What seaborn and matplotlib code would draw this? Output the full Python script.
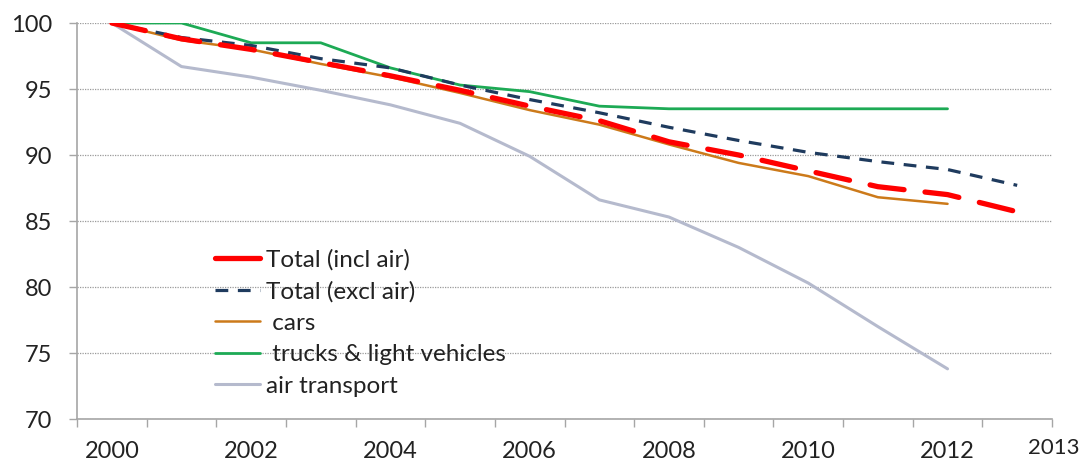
import matplotlib
matplotlib.use("Agg")
import matplotlib.pyplot as plt
import seaborn as sns
import numpy as np
import pandas as pd

years = [2000, 2001, 2002, 2003, 2004, 2005, 2006, 2007, 2008, 2009, 2010, 2011, 2012, 2013]
total_incl_air = [100, 98.8, 98.0, 97.0, 96.0, 94.9, 93.7, 92.6, 91.0, 90.0, 88.8, 87.6, 87.0, 85.7]
total_excl_air = [100, 98.9, 98.3, 97.3, 96.6, 95.3, 94.2, 93.2, 92.1, 91.1, 90.2, 89.5, 88.9, 87.7]
cars = [100, 98.7, 98.0, 96.9, 95.9, 94.7, 93.4, 92.3, 90.8, 89.4, 88.4, 86.8, 86.3]
trucks = [100, 100, 98.5, 98.5, 96.6, 95.3, 94.8, 93.7, 93.5, 93.5, 93.5, 93.5, 93.5]
air = [100, 96.7, 95.9, 94.9, 93.8, 92.4, 89.9, 86.6, 85.3, 83.0, 80.3, 77.0, 73.8]

labels = ["Total (incl air)", "Total (excl air)", " cars", " trucks & light vehicles", "air transport"]
x_labels = ["2000", "2002", "2004", "2006", "2008", "2010", "2012"]
y_ticks = [70, 75, 80, 85, 90, 95, 100]

sns.set_theme(style="white")
plt.rcParams["font.family"] = ["Lato", "DejaVu Sans"]

fig = plt.figure(figsize=(10.83, 4.63), dpi=100)
ax = fig.add_axes([77 / 1083, 1 - 419 / 463, 975 / 1083, 396 / 463])

series = [
    (total_incl_air, dict(color="#FF0000", lw=3.8, linestyle=(0, (6.5, 4.0)), dash_capstyle="round")),
    (total_excl_air, dict(color="#1F3B5E", lw=2.3, linestyle=(0, (4.0, 3.0)))),
    (cars, dict(color="#CC7A1A", lw=1.8, linestyle="-")),
    (trucks, dict(color="#1DAA55", lw=2.0, linestyle="-")),
    (air, dict(color="#B5BACD", lw=2.2, linestyle="-")),
]
order = [4, 3, 2, 1, 0]
handles = {}
for i in order:
    vals, kw = series[i]
    df = pd.DataFrame({"year": years[: len(vals)], "value": vals})
    sns.lineplot(data=df, x="year", y="value", ax=ax, label=labels[i], **kw)
    handles[i] = ax.get_lines()[-1]

ax.set_xlim(1999.5, 2013.5)
ax.set_ylim(70, 100)
ax.set_xlabel("")
ax.set_ylabel("")

FS = 17
ax.set_yticks(y_ticks)
ax.set_yticklabels([str(v) for v in y_ticks])
ax.yaxis.grid(True, linestyle=(0, (1, 1)), color="#9A9A9A", lw=0.9)
ax.xaxis.grid(False)
ax.set_axisbelow(True)

ax.set_xticks([2000, 2002, 2004, 2006, 2008, 2010, 2012])
ax.set_xticklabels(x_labels)
ax.set_xticks(np.arange(1999.5, 2014.0, 1.0), minor=True)
ax.tick_params(axis="x", which="major", length=0, pad=16, labelsize=FS, colors="#222222")
ax.tick_params(axis="x", which="minor", length=6, width=1.0, color="#A6A6A6", direction="out", bottom=True)
ax.tick_params(axis="y", which="major", length=6, width=1.0, color="#A6A6A6", direction="out", left=True,
               pad=12, labelsize=FS, labelcolor="#222222")
ax.annotate("2013", xy=(2013.5, 70), xycoords="data", xytext=(1, -14), textcoords="offset points",
            ha="center", va="top", fontsize=16, color="#222222", annotation_clip=False)

for s in ["top", "right"]:
    ax.spines[s].set_visible(False)
for s in ["left", "bottom"]:
    ax.spines[s].set_color("#A6A6A6")
    ax.spines[s].set_linewidth(1.2)

leg = ax.legend([handles[i] for i in range(5)], labels, loc="upper left",
                bbox_to_anchor=(0.1415, 0.43), frameon=False, fontsize=17.5, handlelength=1.85,
                handletextpad=0.25, labelspacing=0.43, borderaxespad=0, borderpad=0)
for t in leg.get_texts():
    t.set_color("#222222")
leg.get_lines()[0].set_linestyle("-")

fig.savefig("out.png", dpi=100)
